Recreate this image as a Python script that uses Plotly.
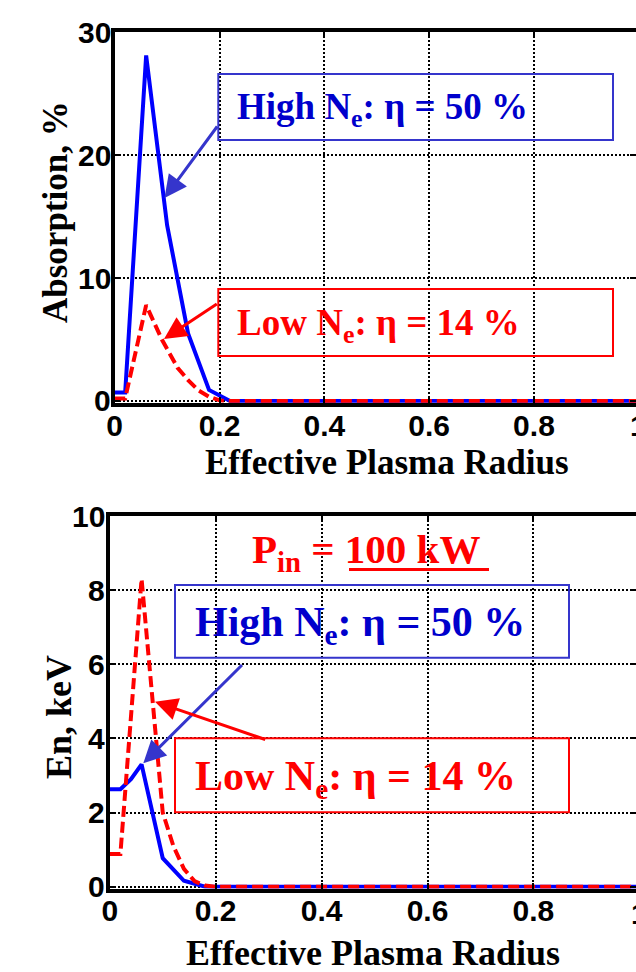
import plotly.graph_objects as go

# ---------------- data ----------------
# Top panel: Absorption, %
abs_high_x = [0, 0.02, 0.06, 0.10, 0.14, 0.18, 0.22, 1.0]
abs_high_y = [0.7, 0.7, 28.1, 14.3, 5.5, 0.9, 0.0, 0.0]
abs_low_x = [0, 0.02, 0.06, 0.09, 0.12, 0.14, 0.16, 0.18, 0.20, 0.22, 1.0]
abs_low_y = [0.2, 0.2, 7.8, 5.0, 2.7, 1.7, 0.85, 0.35, 0.05, 0.0, 0.0]

# Bottom panel: En, keV
en_high_x = [0, 0.02, 0.04, 0.06, 0.10, 0.14, 0.18, 0.22, 1.0]
en_high_y = [2.63, 2.63, 2.9, 3.3, 0.77, 0.16, 0.0, 0.0, 0.0]
en_low_x = [0, 0.02, 0.06, 0.08, 0.10, 0.12, 0.14, 0.16, 0.18, 0.20, 1.0]
en_low_y = [0.88, 0.88, 8.3, 5.05, 2.0, 1.1, 0.48, 0.15, 0.03, 0.0, 0.0]

x_ticks = [0, 0.2, 0.4, 0.6, 0.8, 1.0]
x_ticktext = ["0", "0.2", "0.4", "0.6", "0.8", "1"]
abs_ticks = [0, 10, 20, 30]
en_ticks = [0, 2, 4, 6, 8, 10]

x_title = "Effective Plasma Radius"
abs_title = "Absorption, %"
en_title = "En, keV"
high_label = "High N<sub>e</sub>: \u03b7 = 50 %"
low_label = "Low N<sub>e</sub>: \u03b7 = 14 %"
pin_label = "P<sub>in</sub> = 100 kW"

# ---------------- layout helpers ----------------
W, H = 636, 972


def px(x):
    return x / W


def py(y):
    return 1 - y / H


BLUE = "#0000FF"
RED = "#FF0000"
BLUE_TXT = "#0000CC"
BLUE_BOX = "#3535CC"
SERIF = "Liberation Serif"
SANS = "Liberation Sans"
TICKFONT = dict(family=SANS, size=30, color="black", weight="bold")

fig = go.Figure()
fig.add_trace(go.Scatter(x=abs_high_x, y=abs_high_y, mode="lines",
                         line=dict(color=BLUE, width=4), xaxis="x", yaxis="y",
                         showlegend=False))
fig.add_trace(go.Scatter(x=abs_low_x, y=abs_low_y, mode="lines",
                         line=dict(color=RED, width=4, dash="11px,5px"),
                         xaxis="x", yaxis="y", showlegend=False))
fig.add_trace(go.Scatter(x=en_high_x, y=en_high_y, mode="lines",
                         line=dict(color=BLUE, width=4), xaxis="x2", yaxis="y2",
                         showlegend=False))
fig.add_trace(go.Scatter(x=en_low_x, y=en_low_y, mode="lines",
                         line=dict(color=RED, width=4, dash="11px,5px"),
                         xaxis="x2", yaxis="y2", showlegend=False))

axis_common = dict(
    showline=True, linecolor="black", linewidth=3.5, mirror="ticks",
    ticks="inside", ticklen=6, tickwidth=2, tickcolor="black",
    showgrid=True, gridcolor="black", gridwidth=2, griddash="2px,2px",
    zeroline=False, automargin=False, tickfont=TICKFONT,
)

# top panel geometry (pixels)
t_left, t_scale, t_y0, t_y30 = 114.7, 524.1, 401.0, 32.1
t_ppu = (t_y0 - t_y30) / 30.0
t_ymin = -0.15
# bottom panel geometry
b_left, b_scale, b_y0, b_y10 = 109.8, 529.5, 886.7, 516.0
b_ppu = (b_y0 - b_y10) / 10.0
b_ymin = -0.05

fig.update_layout(
    width=W, height=H,
    margin=dict(l=0, r=0, t=0, b=0, pad=0),
    paper_bgcolor="white", plot_bgcolor="white",
    xaxis=dict(axis_common, domain=[px(t_left), 1],
               range=[0, (W - t_left) / t_scale],
               tickvals=x_ticks, ticktext=x_ticktext, anchor="y",
               ticklabelstandoff=-7),
    yaxis=dict(axis_common,
               domain=[py(t_y0 - t_ymin * t_ppu), py(t_y30)],
               range=[t_ymin, 30], tickvals=abs_ticks, anchor="x",
               showticklabels=False),
    xaxis2=dict(axis_common, domain=[px(b_left), 1],
                range=[0, (W - b_left) / b_scale],
                tickvals=x_ticks, ticktext=x_ticktext, anchor="y2",
                ticklabelstandoff=-7),
    yaxis2=dict(axis_common,
                domain=[py(b_y0 - b_ymin * b_ppu), py(b_y10)],
                range=[b_ymin, 10], tickvals=en_ticks, anchor="x2",
                showticklabels=False),
)

ann = []


def text_ann(txt, x, y, size, color, xanchor="center", angle=0):
    ann.append(dict(text="<b>" + txt + "</b>", x=px(x), y=py(y), xref="paper",
                    yref="paper", showarrow=False, xanchor=xanchor,
                    yanchor="middle", textangle=angle, borderpad=0,
                    borderwidth=0,
                    font=dict(family=SERIF, size=size, color=color)))


def arrow(tip, tail, color):
    ann.append(dict(text="", x=px(tip[0]), y=py(tip[1]), xref="paper",
                    yref="paper", showarrow=True, ax=tail[0] - tip[0],
                    ay=tail[1] - tip[1], axref="pixel", ayref="pixel",
                    arrowhead=2, arrowsize=1.5, arrowwidth=3,
                    arrowcolor=color, standoff=0, startstandoff=0))


# y tick labels (placed from the tick lists on each y axis)
for v in abs_ticks:
    ann.append(dict(text=str(v), x=px(111), y=v, xref="paper", yref="y",
                    showarrow=False, xanchor="right", yanchor="middle",
                    borderpad=0, borderwidth=0, font=TICKFONT))
for v in en_ticks:
    ann.append(dict(text=str(v), x=px(105), y=v, xref="paper", yref="y2",
                    showarrow=False, xanchor="right", yanchor="middle",
                    borderpad=0, borderwidth=0, font=TICKFONT))

# partial "1" tick labels cut by the right edge (as in the reference)
ann.append(dict(text=x_ticktext[-1], x=px(t_left + t_scale * x_ticks[-1]),
                y=py(426), xref="paper", yref="paper", showarrow=False,
                xanchor="center", yanchor="middle", font=TICKFONT))
ann.append(dict(text=x_ticktext[-1], x=px(b_left + b_scale * x_ticks[-1]),
                y=py(913), xref="paper", yref="paper", showarrow=False,
                xanchor="center", yanchor="middle", font=TICKFONT))

# axis titles
text_ann(x_title, 387, 463, 35, "black")
text_ann(x_title, 373, 953, 36, "black")
text_ann(abs_title, 55, 212, 35, "black", angle=-90)
text_ann(en_title, 59, 717, 36, "black", angle=-90)

# box labels
text_ann(high_label, 237, 110, 37, BLUE_TXT, xanchor="left")
text_ann(low_label, 237, 325, 37, RED, xanchor="left")
text_ann(high_label, 195, 625, 42, BLUE_TXT, xanchor="left")
text_ann(low_label, 195, 779, 42, RED, xanchor="left")
text_ann(pin_label, 252, 552, 41, RED, xanchor="left")

# arrows
arrow((164.5, 198), (218.3, 125), BLUE_BOX)
arrow((164, 339), (218.3, 303), RED)
arrow((143.3, 763.3), (243.5, 663.5), BLUE_BOX)
arrow((155, 701.7), (266.7, 740), RED)

shapes = [
    dict(type="rect", xref="paper", yref="paper", x0=px(218.3), x1=px(613),
         y0=py(74), y1=py(140), line=dict(color=BLUE_BOX, width=2)),
    dict(type="rect", xref="paper", yref="paper", x0=px(218.3), x1=px(613),
         y0=py(289), y1=py(356), line=dict(color=RED, width=2)),
    dict(type="rect", xref="paper", yref="paper", x0=px(175), x1=px(569),
         y0=py(585), y1=py(657.7), line=dict(color=BLUE_BOX, width=2)),
    dict(type="rect", xref="paper", yref="paper", x0=px(175), x1=px(569),
         y0=py(738.3), y1=py(812.3), line=dict(color=RED, width=2)),
    # underline of "100 kW"
    dict(type="line", xref="paper", yref="paper", x0=px(349), x1=px(489),
         y0=py(569.5), y1=py(569.5), line=dict(color=RED, width=3)),
]

fig.update_layout(annotations=ann, shapes=shapes)
fig.write_html("out.html")
